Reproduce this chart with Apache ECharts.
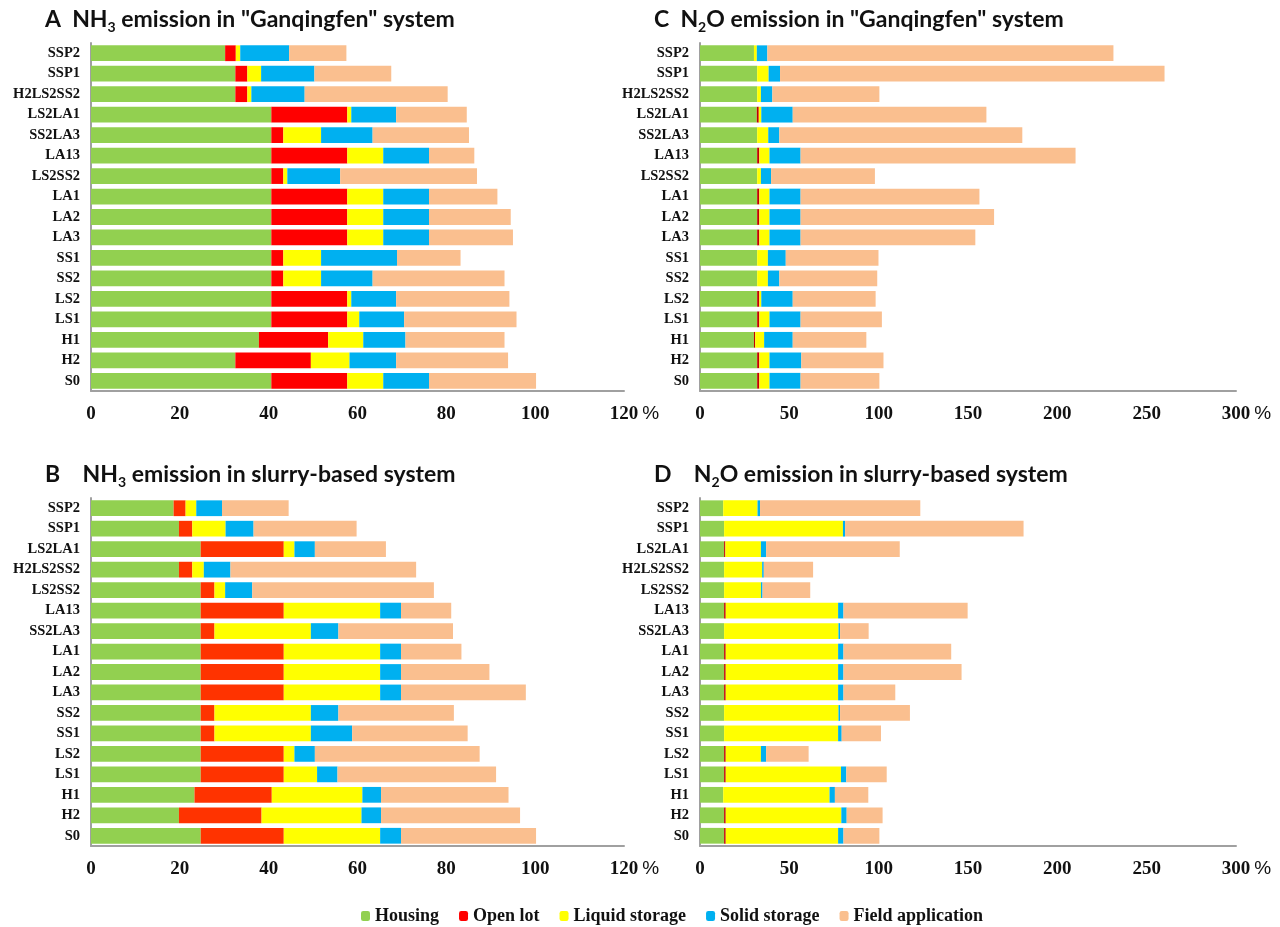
<!DOCTYPE html>
<html>
<head>
<meta charset="utf-8">
<script src="https://cdn.jsdelivr.net/npm/echarts@6/dist/echarts.min.js"></script>
<style>
html, body { margin: 0; padding: 0; background: #fff; }
#main { width: 1280px; height: 927px; }
</style>
</head>
<body>
<div id="main"></div>
<script>
// scenario names, top to bottom
var catsGq = ['SSP2', 'SSP1', 'H2LS2SS2', 'LS2LA1', 'SS2LA3', 'LA13', 'LS2SS2', 'LA1', 'LA2', 'LA3', 'SS1', 'SS2', 'LS2', 'LS1', 'H1', 'H2', 'S0'];
var catsSl = ['SSP2', 'SSP1', 'LS2LA1', 'H2LS2SS2', 'LS2SS2', 'LA13', 'SS2LA3', 'LA1', 'LA2', 'LA3', 'SS2', 'SS1', 'LS2', 'LS1', 'H1', 'H2', 'S0'];

// A  NH3, Ganqingfen (%)
var aHousing = [30.2, 32.5, 32.5, 40.6, 40.6, 40.6, 40.6, 40.6, 40.6, 40.6, 40.6, 40.6, 40.6, 40.6, 37.8, 32.5, 40.6];
var aOpenLot = [2.4, 2.7, 2.7, 17.1, 2.7, 17.1, 2.7, 17.1, 17.1, 17.1, 2.7, 2.7, 17.1, 17.1, 15.6, 17.0, 17.1];
var aLiquid  = [1.0, 3.1, 0.9, 0.9, 8.5, 8.1, 0.9, 8.1, 8.1, 8.1, 8.5, 8.5, 0.9, 2.7, 7.9, 8.7, 8.1];
var aSolid   = [11.0, 12.0, 12.0, 10.1, 11.6, 10.3, 11.9, 10.3, 10.3, 10.3, 17.1, 11.6, 10.1, 10.1, 9.5, 10.5, 10.3];
var aField   = [12.9, 17.3, 32.2, 15.9, 21.7, 10.2, 30.8, 15.4, 18.4, 18.9, 14.3, 29.7, 25.5, 25.3, 22.3, 25.2, 24.1];

// B  NH3, slurry-based (%)
var bHousing = [18.6, 19.8, 24.7, 19.8, 24.7, 24.7, 24.7, 24.7, 24.7, 24.7, 24.7, 24.7, 24.7, 24.7, 23.3, 19.8, 24.7];
var bOpenLot = [2.7, 3.0, 18.7, 3.0, 3.1, 18.7, 3.1, 18.7, 18.7, 18.7, 3.1, 3.1, 18.7, 18.7, 17.4, 18.6, 18.7];
var bLiquid  = [2.4, 7.5, 2.4, 2.6, 2.4, 21.7, 21.7, 21.7, 21.7, 21.7, 21.7, 21.7, 2.4, 7.5, 20.4, 22.5, 21.7];
var bSolid   = [5.8, 6.3, 4.6, 6.0, 6.1, 4.7, 6.2, 4.7, 4.7, 4.7, 6.2, 9.3, 4.6, 4.6, 4.2, 4.4, 4.7];
var bField   = [15.0, 23.2, 16.0, 41.8, 40.9, 11.3, 25.8, 13.6, 19.9, 28.1, 26.0, 26.0, 37.1, 35.7, 28.7, 31.3, 30.4];

// C  N2O, Ganqingfen (%)
var cHousing = [30.2, 32.0, 32.0, 31.8, 32.0, 32.0, 32.0, 32.0, 32.0, 32.0, 32.0, 32.0, 32.0, 32.0, 30.2, 32.0, 32.0];
var cOpenLot = [0, 0, 0, 1.1, 0, 1.2, 0, 1.2, 1.2, 1.2, 0, 0, 1.2, 1.2, 0.7, 1.2, 1.2];
var cLiquid  = [1.6, 6.4, 2.1, 1.4, 6.2, 5.7, 2.1, 5.7, 5.7, 5.7, 6.0, 6.0, 1.1, 5.7, 5.0, 5.7, 5.7];
var cSolid   = [5.9, 6.4, 6.4, 17.6, 6.2, 17.4, 5.7, 17.4, 17.4, 17.4, 10.0, 6.4, 17.6, 17.4, 16.0, 17.8, 17.4];
var cField   = [193.7, 215.2, 59.9, 108.4, 136.0, 153.9, 58.1, 100.1, 108.3, 97.8, 51.9, 54.8, 46.4, 45.5, 41.2, 46.0, 44.1];

// D  N2O, slurry-based (%)
var dHousing = [13.0, 13.5, 13.5, 13.5, 13.5, 13.5, 13.5, 13.5, 13.5, 13.5, 13.5, 13.5, 13.5, 13.5, 13.0, 13.5, 13.5];
var dOpenLot = [0, 0, 0.7, 0, 0, 0.9, 0, 0.9, 0.9, 0.9, 0, 0, 0.9, 0.9, 0, 0.9, 0.9];
var dLiquid  = [19.2, 66.5, 19.9, 21.3, 20.6, 62.9, 64.0, 62.9, 62.9, 62.9, 64.0, 63.8, 19.7, 64.5, 59.5, 64.7, 62.9];
var dSolid   = [1.4, 1.2, 2.9, 0.9, 0.9, 3.0, 0.9, 3.0, 3.0, 3.0, 0.9, 2.0, 2.9, 3.0, 3.0, 3.0, 3.0];
var dField   = [89.7, 99.9, 74.8, 27.6, 26.7, 69.5, 16.0, 60.3, 66.1, 29.0, 39.1, 22.0, 23.8, 22.6, 18.7, 20.1, 20.1];

var seriesNames = ['Housing', 'Open lot', 'Liquid storage', 'Solid storage', 'Field application'];
var ticksNH3 = { max: 120, interval: 20 };
var ticksN2O = { max: 300, interval: 50 };

var myChart = echarts.init(document.getElementById('main'));

var serif = '"Liberation Serif", "Times New Roman", serif';
var gray = '#a0a0a0';

var titleRich = {
	t: { fontFamily: 'Lato', fontWeight: 'bold', fontSize: 23, color: '#111', lineHeight: 28 },
	s: { fontFamily: 'Lato', fontWeight: 'bold', fontSize: 14, color: '#111', lineHeight: 15, verticalAlign: 'bottom' }
};

function mkTitle(left, top, text) {
	return { left: left, top: top, text: text, textStyle: { rich: titleRich } };
}

// one panel = grid + axes + 5 stacked series
var grids = [], xAxes = [], yAxes = [], series = [];
function panel(i, gridPos, cats, ticks, data, redColor) {
	grids.push(gridPos);
	xAxes.push({
		gridIndex: i,
		type: 'value',
		min: 0,
		max: ticks.max,
		interval: ticks.interval,
		name: '%',
		nameLocation: 'end',
		nameGap: 15,
		nameTextStyle: { fontFamily: 'Liberation Sans', fontSize: 19, color: '#111', verticalAlign: 'top', padding: [13, 0, 0, 0] },
		axisLine: { show: true, lineStyle: { color: gray, width: 2 } },
		axisTick: { show: false },
		splitLine: { show: false },
		axisLabel: { fontFamily: serif, fontWeight: 'bold', fontSize: 19, color: '#111', margin: 14 }
	});
	yAxes.push({
		gridIndex: i,
		type: 'category',
		inverse: true,
		data: cats,
		axisLine: { show: true, lineStyle: { color: gray, width: 2 } },
		axisTick: { show: false },
		axisLabel: { fontFamily: serif, fontWeight: 'bold', fontSize: 14.5, color: '#111', margin: 11 }
	});
	var colors = ['#92D050', redColor, '#FFFF00', '#00B0F0', '#FABF8F'];
	for (var k = 0; k < 5; k++) {
		series.push({
			name: seriesNames[k],
			type: 'bar',
			stack: 'p' + i,
			xAxisIndex: i,
			yAxisIndex: i,
			barCategoryGap: '23%',
			itemStyle: { color: colors[k] },
			emphasis: { disabled: true },
			data: data[k]
		});
	}
}

panel(0, { left: 91, top: 43, width: 533, height: 348 }, catsGq, ticksNH3,
	[aHousing, aOpenLot, aLiquid, aSolid, aField], '#FF0000');
panel(1, { left: 91, top: 498, width: 533, height: 348 }, catsSl, ticksNH3,
	[bHousing, bOpenLot, bLiquid, bSolid, bField], '#FF3300');
panel(2, { left: 700, top: 43, width: 536, height: 348 }, catsGq, ticksN2O,
	[cHousing, cOpenLot, cLiquid, cSolid, cField], '#C00000');
panel(3, { left: 700, top: 498, width: 536, height: 348 }, catsSl, ticksN2O,
	[dHousing, dOpenLot, dLiquid, dSolid, dField], '#C00000');

var option = {
	backgroundColor: '#fff',
	animation: false,
	title: [
		mkTitle(40, 1, '{t|A  NH}{s|3}{t| emission in "Ganqingfen" system}'),
		mkTitle(40, 456, '{t|B    NH}{s|3}{t| emission in slurry-based system}'),
		mkTitle(649, 1, '{t|C  N}{s|2}{t|O emission in "Ganqingfen" system}'),
		mkTitle(649, 456, '{t|D    N}{s|2}{t|O emission in slurry-based system}')
	],
	legend: {
		data: seriesNames,
		left: 356,
		top: 902,
		icon: 'roundRect',
		itemWidth: 9,
		itemHeight: 10,
		itemGap: 20,
		textStyle: { fontFamily: serif, fontWeight: 'bold', fontSize: 18, color: '#111' }
	},
	grid: grids,
	xAxis: xAxes,
	yAxis: yAxes,
	series: series
};
myChart.setOption(option);
</script>
</body>
</html>
